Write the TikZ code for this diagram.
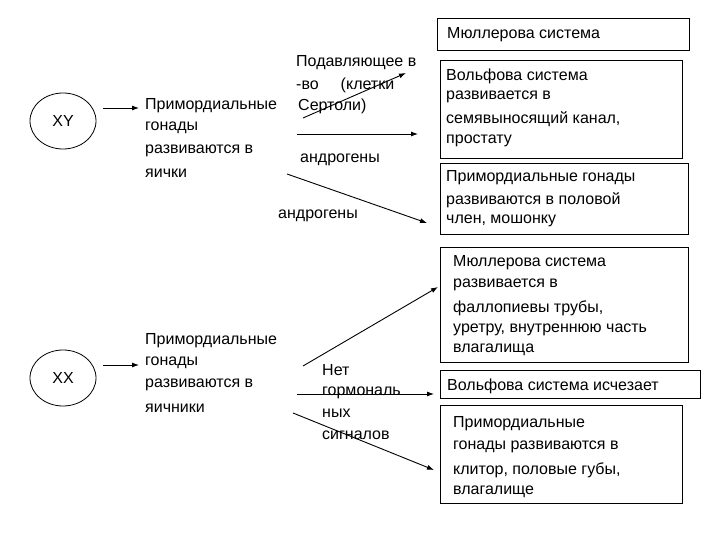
\documentclass[tikz,border=0pt]{standalone}
\usepackage{fontspec}
\setmainfont{Liberation Sans}
\usetikzlibrary{arrows.meta}
\begin{document}
\begin{tikzpicture}[x=1pt,y=-1pt,
  t/.style={anchor=west,inner sep=0pt,font=\fontsize{16}{22}\selectfont},
  bx/.style={draw,line width=0.8pt},
  ar/.style={-{Latex[length=7pt,width=5pt]},line width=0.9pt}]
\useasboundingbox (0,0) rectangle (720,540);
% boxes
\draw[bx] (437,18) rectangle (689,50);
\draw[bx] (440,60) rectangle (682,158);
\draw[bx] (440,163) rectangle (688,234);
\draw[bx] (440,247) rectangle (688,362);
\draw[bx] (440,370) rectangle (700,398);
\draw[bx] (440,405) rectangle (682,503);
\node[t] (m1) at (447,35) {Мюллерова система};
\node[t] (w1) at (446,76) {Вольфова система};
\node[t] (w2) at (446,97) {развивается в};
\node[t] (w3) at (446,119) {семявыносящий канал,};
\node[t] (w4) at (446,141) {простату};
\node[t] (p1) at (446,178) {Примордиальные гонады};
\node[t] (p2) at (446,200) {развиваются в половой};
\node[t] (p3) at (446,221) {член, мошонку};
\node[t] (q1) at (453,263) {Мюллерова система};
\node[t] (q2) at (453,285) {развивается в};
\node[t] (q3) at (453,308) {фаллопиевы трубы,};
\node[t] (q4) at (453,330) {уретру, внутреннюю часть};
\node[t] (q5) at (453,350) {влагалища};
\node[t] (v1) at (447,386) {Вольфова система исчезает};
\node[t] (r1) at (453,424) {Примордиальные};
\node[t] (r2) at (453,447) {гонады развиваются в};
\node[t] (r3) at (453,470) {клитор, половые губы,};
\node[t] (r4) at (453,492) {влагалище};
% ellipses
\draw[line width=0.8pt] (63,121) ellipse (33 and 28);
\node[t,anchor=center] (xy) at (63,121) {XY};
\draw[line width=0.8pt] (63,378) ellipse (33 and 28);
\node[t,anchor=center] (xx) at (63,378) {XX};
% left texts
\node[t] (a1) at (145,106) {Примордиальные};
\node[t] (a2) at (145,128) {гонады};
\node[t] (a3) at (145,151) {развиваются в};
\node[t] (a4) at (145,173) {яички};
\node[t] (s1) at (296,63) {Подавляющее в};
\node[t] (s2) at (296,85) {-во\hspace{22pt}(клетки};
\node[t] (s3) at (298,106) {Сертоли)};
\node[t] (g1) at (300,160) {андрогены};
\node[t] (g2) at (278,216) {андрогены};
\node[t] (b1) at (145,341) {Примордиальные};
\node[t] (b2) at (145,363) {гонады};
\node[t] (b3) at (145,385) {развиваются в};
\node[t] (b4) at (145,408) {яичники};
\node[t] (n1) at (322,370) {Нет};
\node[t] (n2) at (322,393) {гормональ};
\node[t] (n3) at (322,413) {ных};
\node[t] (n4) at (322,435) {сигналов};
% arrows
\coordinate (c1) at (103,108); \coordinate (c2) at (139,108);
\draw[ar] (c1) -- (c2);
\coordinate (c3) at (103,365); \coordinate (c4) at (139,365);
\draw[ar] (c3) -- (c4);
\coordinate (d1) at (303,118); \coordinate (e1) at (406,73);
\draw[ar] (d1) -- (e1);
\coordinate (d2) at (297,134); \coordinate (e2) at (418,134);
\draw[ar] (d2) -- (e2);
\coordinate (d3) at (287,174); \coordinate (e3) at (427,223);
\draw[ar] (d3) -- (e3);
\coordinate (d4) at (303,366); \coordinate (e4) at (438,287);
\draw[ar] (d4) -- (e4);
\coordinate (d5) at (297,394); \coordinate (e5) at (434,394);
\draw[ar] (d5) -- (e5);
\coordinate (d6) at (293,413); \coordinate (e6) at (434,470);
\draw[ar] (d6) -- (e6);
\end{tikzpicture}
\end{document}
